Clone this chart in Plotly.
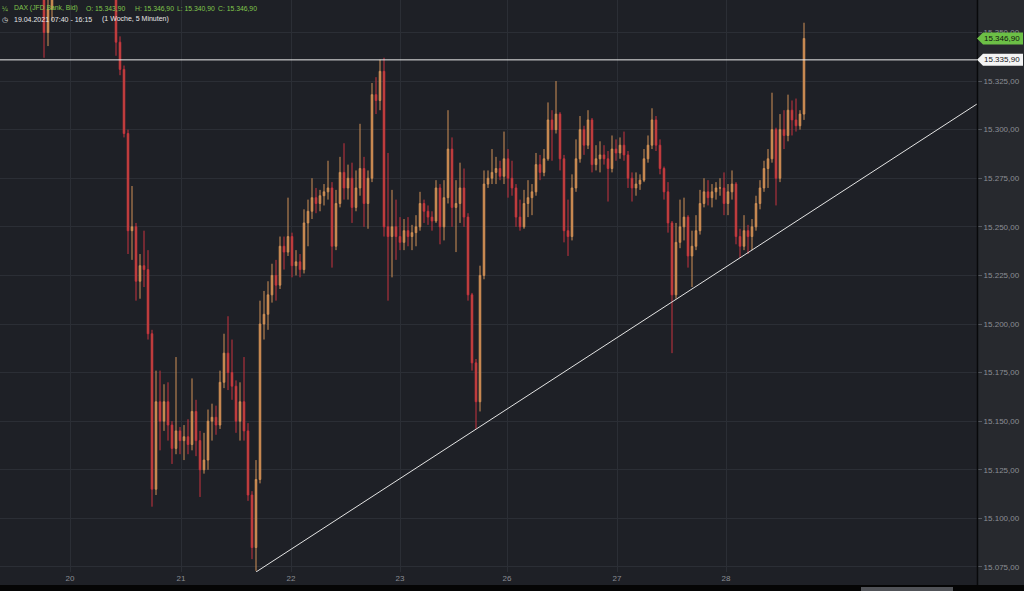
import plotly.graph_objects as go

# ---------------- data (5-minute DAX bars, aggregated) ----------------
highs = [
    15392, 15390, 15388, 15385, 15384, 15389, 15390, 15387, 15382, 15380,
    15375, 15372, 15378, 15385, 15388, 15392, 15395, 15394, 15390, 15392,
    15396, 15393, 15388, 15386, 15389, 15385, 15382, 15380, 15374, 15348,
    15333, 15300, 15271, 15252, 15236, 15248, 15238, 15197, 15176, 15176,
    15169, 15170, 15150, 15183, 15147, 15148, 15151, 15172, 15161, 15145,
    15144, 15156, 15159, 15158, 15176, 15195, 15204, 15192, 15171, 15170,
    15183, 15149, 15114, 15130, 15212, 15217, 15222, 15231, 15233, 15245,
    15245, 15265, 15247, 15238, 15236, 15259, 15264, 15275, 15270, 15269,
    15272, 15284, 15273, 15269, 15286, 15293, 15282, 15283, 15279, 15303,
    15286, 15279, 15324, 15327, 15336, 15337, 15288, 15269, 15264, 15255,
    15254, 15255, 15251, 15256, 15268, 15264, 15261, 15258, 15274, 15272,
    15274, 15310, 15296, 15274, 15283, 15280, 15257, 15216, 15182, 15230,
    15279, 15279, 15290, 15286, 15284, 15299, 15290, 15284, 15272, 15264,
    15269, 15274, 15272, 15288, 15287, 15290, 15314, 15310, 15325, 15309,
    15287, 15264, 15277, 15295, 15307, 15302, 15310, 15306, 15292, 15294,
    15292, 15289, 15297, 15295, 15296, 15299, 15289, 15278, 15278, 15277,
    15290, 15297, 15311, 15307, 15295, 15281, 15273, 15253, 15252, 15264,
    15265, 15256, 15248, 15256, 15269, 15275, 15274, 15272, 15273, 15275,
    15278, 15272, 15279, 15273, 15249, 15256, 15251, 15254, 15266, 15274,
    15284, 15290, 15319, 15301, 15308, 15310, 15318, 15315, 15316, 15310,
    15355,
]
lows = [
    15380, 15379, 15376, 15374, 15372, 15377, 15380, 15375, 15369, 15368,
    15337, 15343, 15356, 15370, 15376, 15380, 15383, 15382, 15378, 15380,
    15384, 15381, 15376, 15374, 15377, 15373, 15370, 15369, 15338, 15328,
    15296, 15236, 15233, 15212, 15213, 15219, 15192, 15106, 15112, 15135,
    15145, 15140, 15128, 15133, 15133, 15130, 15133, 15135, 15132, 15111,
    15123, 15125, 15140, 15143, 15146, 15167, 15166, 15161, 15144, 15140,
    15140, 15109, 15079, 15073, 15118, 15192, 15197, 15211, 15212, 15218,
    15228, 15235, 15224, 15225, 15224, 15226, 15240, 15254, 15257, 15258,
    15261, 15264, 15229, 15238, 15260, 15264, 15264, 15252, 15258, 15266,
    15250, 15249, 15273, 15308, 15310, 15245, 15212, 15224, 15233, 15238,
    15238, 15240, 15238, 15240, 15248, 15252, 15251, 15248, 15252, 15241,
    15243, 15262, 15250, 15237, 15252, 15250, 15212, 15176, 15146, 15155,
    15223, 15270, 15272, 15272, 15274, 15272, 15265, 15266, 15250, 15248,
    15249, 15255, 15256, 15266, 15274, 15276, 15284, 15284, 15298, 15279,
    15242, 15235, 15243, 15268, 15283, 15287, 15290, 15278, 15279, 15278,
    15282, 15263, 15278, 15284, 15285, 15284, 15270, 15263, 15266, 15269,
    15273, 15283, 15290, 15289, 15277, 15264, 15247, 15185, 15213, 15239,
    15243, 15229, 15219, 15238, 15246, 15260, 15261, 15260, 15264, 15266,
    15256, 15256, 15264, 15241, 15234, 15238, 15236, 15238, 15248, 15259,
    15268, 15270, 15283, 15261, 15273, 15290, 15294, 15297, 15299, 15300,
    15305,
]
closes = [
    15386, 15383, 15380, 15378, 15381, 15385, 15384, 15377, 15372, 15370,
    15350, 15362, 15372, 15380, 15384, 15388, 15390, 15386, 15384, 15389,
    15391, 15385, 15380, 15382, 15381, 15377, 15375, 15372, 15345, 15331,
    15298, 15248, 15250, 15222, 15230, 15228, 15195, 15115, 15160, 15150,
    15160, 15148, 15136, 15145, 15140, 15142, 15138, 15155, 15140, 15125,
    15130, 15150, 15152, 15148, 15170, 15185, 15175, 15168, 15150, 15160,
    15145, 15112, 15085, 15120, 15200, 15205, 15215, 15225, 15220, 15240,
    15237, 15245, 15230, 15232, 15228, 15252, 15258, 15265, 15262, 15266,
    15268, 15270, 15240, 15262, 15278, 15270, 15275, 15260, 15270, 15280,
    15262, 15275, 15318, 15315, 15330, 15250, 15245, 15250, 15245, 15242,
    15248, 15245, 15247, 15250, 15262, 15258, 15255, 15253, 15270, 15250,
    15265, 15290, 15260, 15262, 15270, 15255, 15215, 15180, 15160, 15225,
    15272, 15275, 15278, 15280, 15276, 15285, 15275, 15270, 15255, 15250,
    15262, 15265, 15268, 15282, 15278, 15285, 15305, 15300, 15308, 15285,
    15248, 15245, 15270, 15285, 15300, 15292, 15305, 15282, 15285, 15287,
    15285, 15280, 15290, 15288, 15292, 15287, 15275, 15270, 15272, 15274,
    15285, 15292, 15305, 15292, 15280, 15268, 15252, 15215, 15242, 15250,
    15255, 15235, 15240, 15248, 15262, 15268, 15265, 15268, 15270, 15270,
    15262, 15268, 15272, 15245, 15240, 15248, 15245, 15250, 15262, 15270,
    15280, 15285, 15300, 15275, 15300, 15297, 15310, 15305, 15302, 15308,
    15346.9,
]
first_open = 15388
opens = [first_open] + closes[:-1]
bars = list(range(len(closes)))

day_tick_pos = [16.5, 44.25, 71.75, 99, 125.75, 153.25, 180.5]
day_tick_text = ["20", "21", "22", "23", "26", "27", "28"]
price_ticks = [15075, 15100, 15125, 15150, 15175, 15200, 15225,
               15250, 15275, 15300, 15325, 15350]

level_price = 15335.9
last_price = 15346.9
trend_x = [63, 243.25]
trend_y = [15072.4, 15313.2]

x_range = [-1, 243.25]
y_range = [15072.4, 15366.7]

header_open, header_high, header_low, header_close = 15343.9, 15346.9, 15340.9, 15346.9


def de(v):
    s = f"{v:,.2f}"
    return s.replace(",", "X").replace(".", ",").replace("X", ".")


# ---------------- styles ----------------
BG = "#1e2026"
PANEL = "#27292e"
GRID = "#2b2e35"
TICK = "#8b8e95"
GREEN_TXT = "#80c64c"
FONT = "Liberation Sans, Arial, sans-serif"

fig = go.Figure()
fig.add_trace(go.Candlestick(
    x=bars, open=opens, high=highs, low=lows, close=closes,
    increasing=dict(line=dict(color="#cf9057", width=1), fillcolor="#dc8d4d"),
    decreasing=dict(line=dict(color="#c7323f", width=1), fillcolor="#d36a3f"),
    whiskerwidth=0, hoverinfo="skip", showlegend=False,
))
fig.add_trace(go.Scatter(
    x=trend_x, y=trend_y, mode="lines",
    line=dict(color="#e4e4e4", width=1), hoverinfo="skip", showlegend=False,
))

W_PLOT = 977.0
H_PLOT = 572.0

shapes = [
    # right price panel
    dict(type="rect", xref="paper", yref="paper", x0=1, x1=1.06,
         y0=-13 / H_PLOT, y1=1.01, fillcolor=PANEL, line=dict(width=0), layer="below"),
    # bottom black strip
    dict(type="rect", xref="paper", yref="paper", x0=-0.01, x1=1.06,
         y0=-0.05, y1=-13 / H_PLOT, fillcolor="#050505", line=dict(width=0), layer="below"),
    # scrollbar
    dict(type="rect", xref="paper", yref="paper", x0=861 / W_PLOT, x1=953 / W_PLOT,
         y0=-19 / H_PLOT, y1=-15 / H_PLOT, fillcolor="#505257", line=dict(width=0), layer="above"),
    # separator
    dict(type="line", xref="paper", yref="paper", x0=1.0005, x1=1.0005,
         y0=-13 / H_PLOT, y1=1.01, line=dict(color="#08090b", width=1.5), layer="above"),
    # horizontal level line
    dict(type="line", xref="paper", yref="y", x0=0, x1=1, y0=level_price, y1=level_price,
         line=dict(color="#ececec", width=1), layer="above"),
    # green price tag
    dict(type="path", xref="paper", yref="y", xsizemode="pixel", ysizemode="pixel",
         xanchor=1, yanchor=last_price, path="M0,0 L6,6 L46,6 L46,-6 L6,-6 Z",
         fillcolor="#6cbf46", line=dict(width=0), layer="above"),
    # white level tag
    dict(type="path", xref="paper", yref="y", xsizemode="pixel", ysizemode="pixel",
         xanchor=1, yanchor=level_price, path="M0,0 L6,6 L46,6 L46,-6 L6,-6 Z",
         fillcolor="#f4f4f4", line=dict(width=0), layer="above"),
]

annotations = [
    dict(xref="paper", yref="y", x=1, y=last_price, xanchor="left", yanchor="middle",
         xshift=5, text=de(last_price), showarrow=False,
         font=dict(family=FONT, size=8, color="#10140e")),
    dict(xref="paper", yref="y", x=1, y=level_price, xanchor="left", yanchor="middle",
         xshift=5, text=de(level_price), showarrow=False,
         font=dict(family=FONT, size=8, color="#15161a")),
]

header1 = [
    (1, "¼"),
    (13, "DAX (JFD Bank, Bid)"),
    (85, "O: " + de(header_open)),
    (134, "H: " + de(header_high)),
    (176, "L: " + de(header_low)),
    (217, "C: " + de(header_close)),
]
for px, txt in header1:
    annotations.append(dict(xref="paper", yref="paper", x=0, y=1, xshift=px, yshift=-8,
                            xanchor="left", yanchor="middle", text=txt, showarrow=False,
                            borderpad=0,
                            font=dict(family=FONT, size=6.8, color=GREEN_TXT)))
header2 = [
    (1, "◷"),
    (13, "19.04.2021 07:40 - 16:15"),
    (101, "(1 Woche, 5 Minuten)"),
]
for px, txt in header2:
    annotations.append(dict(xref="paper", yref="paper", x=0, y=1, xshift=px, yshift=-19,
                            xanchor="left", yanchor="middle", text=txt, showarrow=False,
                            borderpad=0,
                            font=dict(family=FONT, size=7, color="#e6e6e6")))

fig.update_layout(
    width=1024, height=591, autosize=False,
    margin=dict(l=0, r=47, t=0, b=19, pad=0),
    paper_bgcolor=BG, plot_bgcolor=BG,
    separators=",.",
    showlegend=False,
    boxgap=0.45,
    font=dict(family=FONT, size=8, color=TICK),
    shapes=shapes,
    annotations=annotations,
    xaxis=dict(
        range=x_range, tickmode="array", tickvals=day_tick_pos, ticktext=day_tick_text,
        showgrid=True, gridcolor=GRID, gridwidth=1, zeroline=False, showline=False,
        rangeslider=dict(visible=False), tickfont=dict(family=FONT, size=8, color=TICK),
        ticks="", fixedrange=True,
    ),
    yaxis=dict(
        side="right", range=y_range, tickmode="array", tickvals=price_ticks,
        tickformat=",.2f", showgrid=True, gridcolor=GRID, gridwidth=1,
        zeroline=False, showline=False, ticks="outside", ticklen=4, tickcolor="#55585f",
        tickfont=dict(family=FONT, size=8, color=TICK), fixedrange=True,
    ),
)

fig.write_html(
    "out.html",
    config={"displayModeBar": False},
    post_script="document.body.style.margin='0';document.body.style.padding='0';"
                "document.body.style.background='#1e2026';",
)
